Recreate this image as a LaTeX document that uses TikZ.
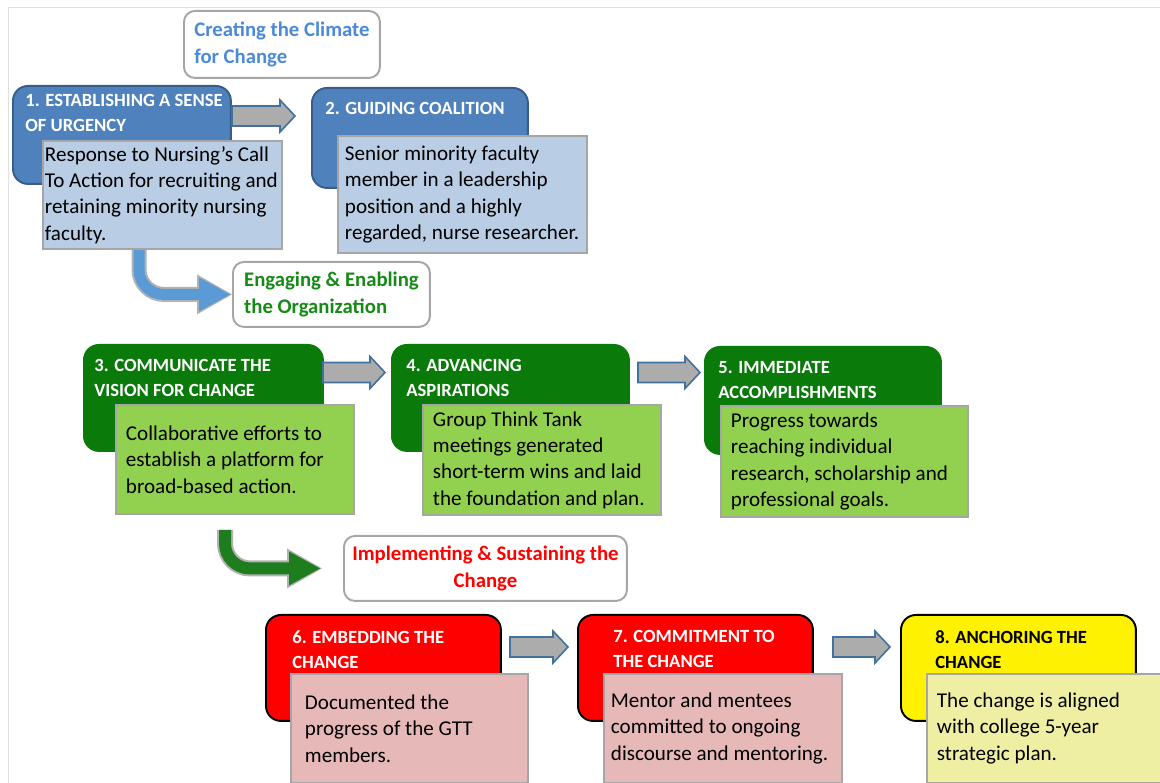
\documentclass[tikz,border=0pt]{standalone}
\usepackage{fontspec}
\setmainfont{Carlito}
\usetikzlibrary{arrows.meta}

\definecolor{urgblue}{HTML}{4F81BD}
\definecolor{urgline}{HTML}{385D8A}
\definecolor{noteblue}{HTML}{B9CDE5}
\definecolor{noteline}{HTML}{A6A6A6}
\definecolor{stagegreen}{HTML}{0A7A0A}
\definecolor{notegreen}{HTML}{92D050}
\definecolor{notepink}{HTML}{E6B9B8}
\definecolor{noteyellow}{HTML}{EFEFA4}
\definecolor{climateblue}{HTML}{4A8AD8}
\definecolor{engagegreen}{HTML}{168A16}
\definecolor{flowblue}{HTML}{5B9BD5}
\definecolor{flowgreen}{HTML}{1E7E1E}
\definecolor{arrowline}{HTML}{41719C}

\begin{document}
\begin{tikzpicture}[x=0.02cm, y=-0.02cm,
        pics/blockarrow/.style={code={
            \draw[draw=arrowline, fill=gray!65, line width=0.9pt, line join=miter]
                (-#1, -10) -- (#1-15, -10) -- (#1-15, -16) -- (#1, 0)
                -- (#1-15, 16) -- (#1-15, 10) -- (-#1, 10) -- cycle;
        }}]
            \useasboundingbox (0, 0) rectangle (1160, 783);
            \draw[gray!25] (8, 783) -- (8, 7) -- (1160, 7);

            {
                \tikzset{
                    stage/.style = {anchor=north west, rounded corners=0.3cm, line width=1.1pt, inner sep=0pt},
                    title/.style = {anchor=north west, inner sep=0pt, align=flush left, text=white,
                                    font=\fontsize{10.6pt}{14.2pt}\selectfont\bfseries},
                    note/.style  = {anchor=north west, draw=noteline, line width=1.1pt, inner xsep=0.2cm,
                                    inner ysep=0pt, align=flush left, font=\fontsize{12pt}{15pt}\selectfont},
                    phase/.style = {anchor=north west, draw=noteline, line width=1.1pt, fill=white,
                                    rounded corners=0.22cm, inner xsep=0.1cm, inner ysep=0pt, align=flush left,
                                    font=\fontsize{11.8pt}{15.3pt}\selectfont\bfseries}
                }

                \node[phase, text=climateblue, minimum width=3.92cm, minimum height=1.34cm] (climate) at (183, 10) {Creating the Climate\\for Change};
                \node[phase, text=engagegreen, minimum width=3.94cm, minimum height=1.3cm] (engage) at (232, 261) {Engaging \& Enabling\\the Organization};
                \node[phase, text=red, align=flush center, minimum width=5.66cm, minimum height=1.3cm] (impl) at (343, 535) {Implementing \& Sustaining the\\Change};

                \node[stage, fill=urgblue, draw=urgline, minimum width=4.36cm, minimum height=1.96cm] (s1) at (12, 85) {};
                \node[title] (t1) at (25, 94) {1. ESTABLISHING A SENSE\\OF URGENCY};
                \node[note, fill=noteblue, inner xsep=0.04cm, text width=4.7cm, minimum height=2.16cm] (n1) at (42, 140)
                    {Response to Nursing’s Call\\To Action for recruiting and\\retaining minority nursing\\faculty.};

                \node[stage, fill=urgblue, draw=urgline, minimum width=4.32cm, minimum height=2cm] (s2) at (311, 87) {};
                \node[title] (t2) at (325, 102) {2. GUIDING COALITION};
                \node[note, fill=noteblue, inner xsep=0.14cm, text width=4.7cm, minimum height=2.34cm] (n2) at (337, 135)
                    {Senior minority faculty\\member in a leadership\\position and a highly\\regarded, nurse researcher.};

                \node[stage, fill=stagegreen, draw=stagegreen, minimum width=4.78cm, minimum height=2.12cm] (s3) at (83, 344) {};
                \node[title] (t3) at (94, 359) {3. COMMUNICATE THE\\VISION FOR CHANGE};
                \node[note, fill=notegreen, text width=4.36cm, minimum height=2.18cm] (n3) at (115, 404)
                    {Collaborative efforts to\\establish a platform for\\broad-based action.};

                \node[stage, fill=stagegreen, draw=stagegreen, minimum width=4.74cm, minimum height=2.12cm] (s4) at (391, 344) {};
                \node[title] (t4) at (406, 359) {4. ADVANCING\\ASPIRATIONS};
                \node[note, fill=notegreen, text width=4.36cm, minimum height=2.2cm] (n4) at (422, 404)
                    {Group Think Tank\\meetings generated\\short-term wins and laid\\the foundation and plan.};

                \node[stage, fill=stagegreen, draw=stagegreen, minimum width=4.72cm, minimum height=2.14cm] (s5) at (704, 346) {};
                \node[title] (t5) at (718, 361) {5. IMMEDIATE\\ACCOMPLISHMENTS};
                \node[note, fill=notegreen, text width=4.54cm, minimum height=2.22cm] (n5) at (720, 405)
                    {Progress towards\\reaching individual\\research, scholarship and\\professional goals.};

                \node[stage, fill=red, draw=black, minimum width=4.7cm, minimum height=2.12cm] (s6) at (265, 614) {};
                \node[title] (t6) at (292, 630) {6. EMBEDDING THE\\CHANGE};
                \node[note, fill=notepink, inner xsep=0.28cm, text width=4.18cm, minimum height=2.18cm] (n6) at (290, 673)
                    {Documented the\\progress of the GTT\\members.};

                \node[stage, fill=red, draw=black, minimum width=4.7cm, minimum height=2.12cm] (s7) at (577, 614) {};
                \node[title] (t7) at (613, 630) {7. COMMITMENT TO\\THE CHANGE};
                \node[note, fill=notepink, inner xsep=0.14cm, text width=4.48cm, minimum height=2.18cm] (n7) at (603, 673)
                    {Mentor and mentees\\committed to ongoing\\discourse and mentoring.};

                \node[stage, fill=yellow, draw=black, minimum width=4.7cm, minimum height=2.12cm] (s8) at (900, 614) {};
                \node[title, text=black] (t8) at (935, 630) {8. ANCHORING THE\\CHANGE};
                \node[note, fill=noteyellow, text width=4.28cm, minimum height=2.18cm] (n8) at (926, 673)
                    {The change is aligned\\with college 5-year\\strategic plan.};
            }

            \pic at (263.5, 116) {blockarrow=31.5};
            \pic at (354, 372.5) {blockarrow=31};
            \pic at (669, 372.5) {blockarrow=31};
            \pic at (539, 647) {blockarrow=29};
            \pic at (861.5, 647) {blockarrow=28.5};

            \coordinate (b1) at (139, 250);
            \coordinate (b3) at (225, 530);

            \draw[gray!60, rounded corners=0.5cm, line width=0.3cm,
                  -{Triangle[length=0.7cm, width=0.8cm, line width=0pt]}] (b1) |- (engage.west);
            \draw[flowblue, rounded corners=0.5cm, line width=0.22cm,
                  -{Triangle[length=0.62cm, width=0.68cm, line width=0pt]}] (b1) |- ([xshift=-0.04cm]engage.west);

            \draw[gray!60, rounded corners=0.5cm, line width=0.32cm, shorten >=0.42cm,
                  -{Triangle[length=0.7cm, width=0.8cm, line width=0pt]}] (b3) |- (impl.west);
            \draw[flowgreen, rounded corners=0.5cm, line width=0.24cm, shorten >=0.46cm,
                  -{Triangle[length=0.62cm, width=0.68cm, line width=0pt]}] (b3) |- (impl.west);

        \end{tikzpicture}
\end{document}
